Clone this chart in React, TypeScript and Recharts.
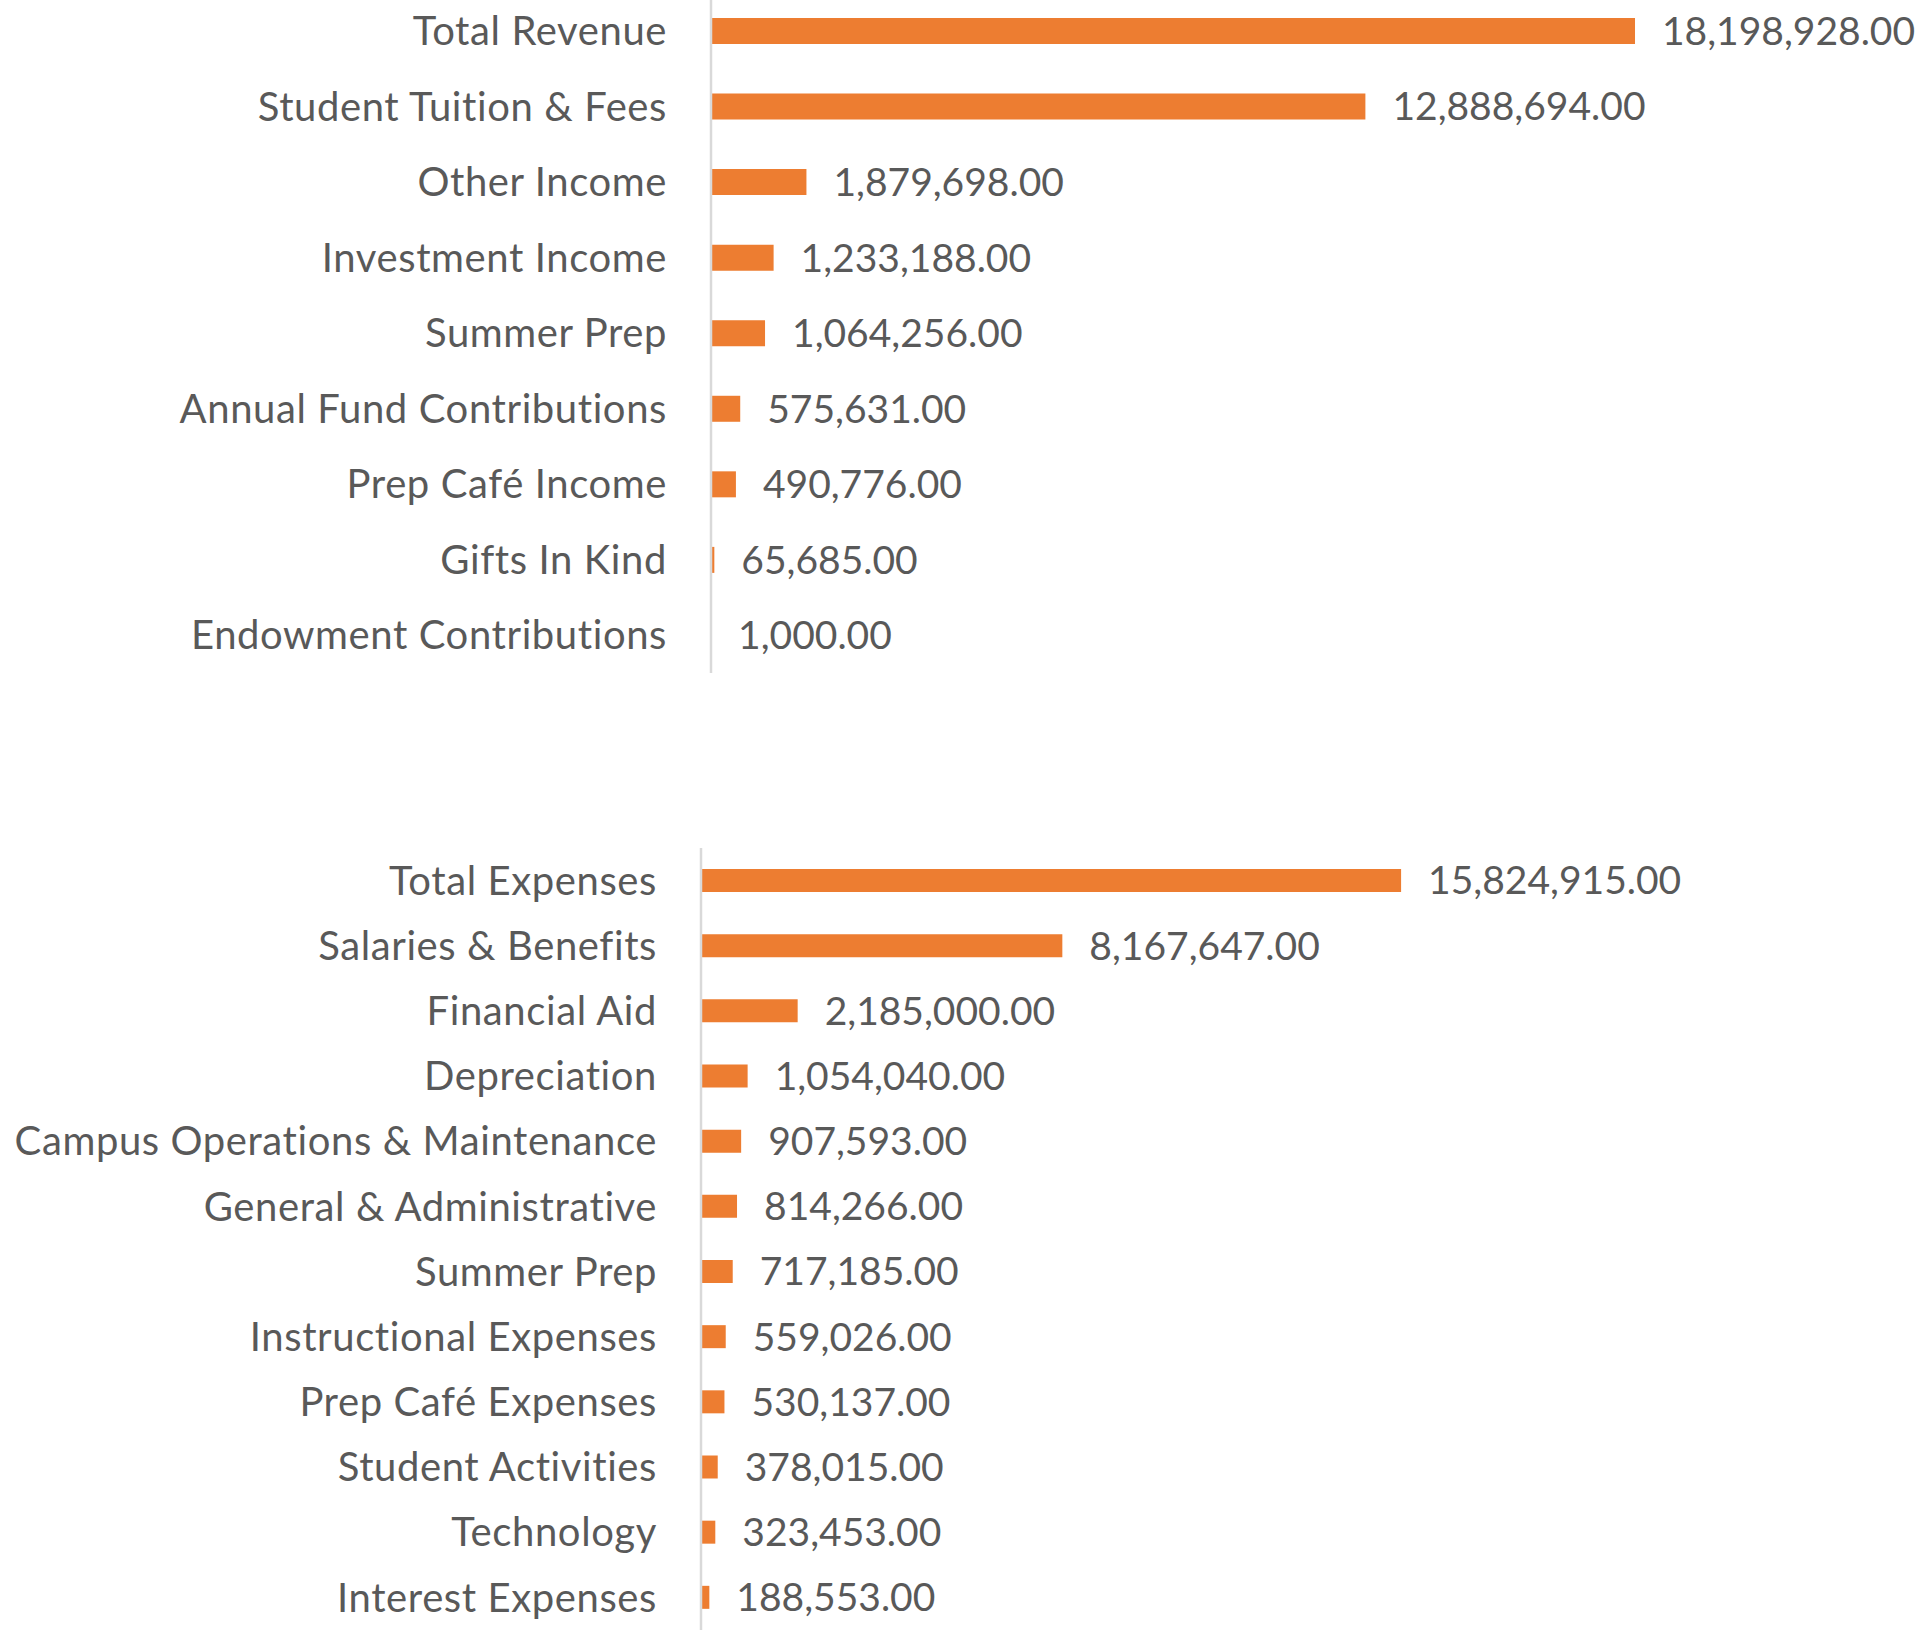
import { Bar, BarChart, LabelList, XAxis, YAxis } from "recharts";

const revenueCategories = [
  "Total Revenue",
  "Student Tuition & Fees",
  "Other Income",
  "Investment Income",
  "Summer Prep",
  "Annual Fund Contributions",
  "Prep Café Income",
  "Gifts In Kind",
  "Endowment Contributions",
];
const revenueValues = [18198928, 12888694, 1879698, 1233188, 1064256, 575631, 490776, 65685, 1000];

const expenseCategories = [
  "Total Expenses",
  "Salaries & Benefits",
  "Financial Aid",
  "Depreciation",
  "Campus Operations & Maintenance",
  "General & Administrative",
  "Summer Prep",
  "Instructional Expenses",
  "Prep Café Expenses",
  "Student Activities",
  "Technology",
  "Interest Expenses",
];
const expenseValues = [15824915, 8167647, 2185000, 1054040, 907593, 814266, 717185, 559026, 530137, 378015, 323453, 188553];

const ORANGE = "#ED7D31";
const TEXT = "#595959";
const FONT = "Lato";

const fmt = (v: any) =>
  Number(v).toLocaleString("en-US", { minimumFractionDigits: 2, maximumFractionDigits: 2 });

function HBar({
  names,
  values,
  height,
  axisWidth,
  domainMax,
  rightMargin,
  barSize,
}: {
  names: string[];
  values: number[];
  height: number;
  axisWidth: number;
  domainMax: number;
  rightMargin: number;
  barSize: number;
}) {
  const data = names.map((name, i) => ({ name, value: values[i] }));
  return (
    <BarChart
      width={1920}
      height={height}
      data={data}
      layout="vertical"
      margin={{ top: 0, right: rightMargin, bottom: 0, left: 0 }}
    >
      <XAxis type="number" domain={[0, domainMax]} hide />
      <YAxis
        type="category"
        dataKey="name"
        width={axisWidth}
        interval={0}
        tickLine={false}
        tickSize={0}
        tickMargin={44}
        axisLine={{ stroke: "#D9D9D9", strokeWidth: 2.5 }}
        tick={{ fill: TEXT, fontSize: 40, fontFamily: FONT, letterSpacing: 0.6 }}
      />
      <Bar dataKey="value" fill={ORANGE} barSize={barSize} isAnimationActive={false}>
        <LabelList
          dataKey="value"
          position="right"
          offset={27}
          formatter={fmt}
          style={{ fill: TEXT, fontSize: 39, fontFamily: FONT }}
        />
      </Bar>
    </BarChart>
  );
}

export default function App() {
  return (
    <div style={{ position: "absolute", top: 0, left: 0, width: 1920, height: 1639, background: "#fff", overflow: "hidden" }}>
      <div style={{ position: "absolute", top: -7, left: 0 }}>
        <HBar
          names={revenueCategories}
          values={revenueValues}
          height={680}
          axisWidth={711}
          domainMax={22000000}
          rightMargin={92}
          barSize={26}
        />
      </div>
      <div style={{ position: "absolute", top: 848, left: 0 }}>
        <HBar
          names={expenseCategories}
          values={expenseValues}
          height={782}
          axisWidth={701}
          domainMax={25000000}
          rightMargin={113}
          barSize={23}
        />
      </div>
    </div>
  );
}
